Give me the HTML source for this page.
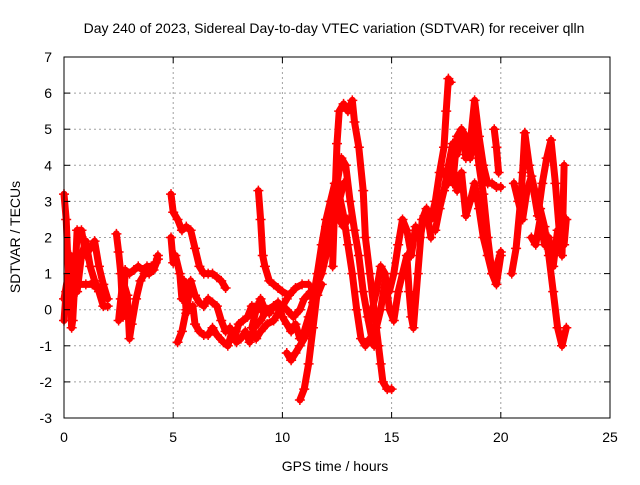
<!DOCTYPE html>
<html><head><meta charset="utf-8"><style>
body{margin:0;background:#fff}
svg text{font-family:"Liberation Sans",sans-serif;font-size:14px;fill:#000}
</style></head><body>
<svg id="chart" width="640" height="480" viewBox="0 0 640 480" xmlns="http://www.w3.org/2000/svg">
<rect width="640" height="480" fill="#fff"/>
<text x="334" y="33" text-anchor="middle">Day 240 of 2023, Sidereal Day-to-day VTEC variation (SDTVAR) for receiver qlln</text>
<g id="grid"></g>
<g id="series"></g>
<rect x="64" y="57" width="546" height="361" fill="none" stroke="#000" stroke-width="1"/>
<g id="ticks"></g>
<text x="335" y="471" text-anchor="middle">GPS time / hours</text>
<text transform="translate(20,237) rotate(-90)" text-anchor="middle">SDTVAR / TECUs</text>
</svg>
<script>
const xTicks=[0,5,10,15,20,25];
const yTicks=[-3,-2,-1,0,1,2,3,4,5,6,7];
const trace1=[[0,3.2],[0.1,2.5],[0.2,1.0],[0.3,0.3],[0.35,-0.5],[0.4,-0.3],[0.5,0.8],[0.6,2.2],[0.8,2.2],[1.0,1.5],[1.2,1.7],[1.4,1.9],[1.6,1.2],[1.8,0.7],[2.0,0.3]];
const trace2=[[0,0.3],[0.2,1.0],[0.4,0.8],[0.6,0.5],[0.8,1.5],[1.0,1.9],[1.2,1.2],[1.4,0.8],[1.6,0.5],[1.8,0.1],[2.0,0.1]];
const trace3=[[0,-0.3],[0.1,0.5],[0.3,1.5],[0.5,1.1],[0.7,0.7],[1.0,0.7],[1.3,0.7],[1.5,0.6]];
const trace4=[[2.4,2.1],[2.5,1.6],[2.6,1.0],[2.7,-0.2],[2.8,1.1],[3.0,1.0],[3.2,1.1],[3.4,1.2],[3.6,1.1],[3.8,1.2],[4.0,1.2],[4.2,1.3],[4.3,1.5]];
const trace5=[[2.5,-0.3],[2.6,0.3],[2.7,0.8],[2.9,0.4],[3.0,-0.8],[3.1,-0.4],[3.3,0.3],[3.5,0.8],[3.7,1.0],[3.9,1.0],[4.1,1.1],[4.3,1.4]];
const trace6=[[4.9,3.2],[5.0,2.7],[5.2,2.5],[5.4,2.2],[5.6,2.3],[5.8,2.2],[6.0,1.7],[6.2,1.2],[6.4,1.0],[6.6,1.0],[6.8,1.0],[7.0,0.9],[7.2,0.8],[7.4,0.6]];
const trace7=[[4.9,2.0],[5.0,1.3],[5.1,1.5],[5.3,1.0],[5.4,0.3],[5.5,0.8],[5.6,-0.1],[5.8,0.8],[6.0,0.4],[6.2,0.2],[6.4,0.1],[6.6,0.3],[6.8,0.2],[7.0,0.1],[7.2,-0.3],[7.4,-0.6],[7.6,-0.5],[7.8,-0.8],[8.0,-0.4],[8.2,-0.3],[8.4,-0.2],[8.6,0.1],[8.8,0.1],[9.0,0.0]];
const trace8=[[5.2,-0.9],[5.4,-0.6],[5.6,0.0],[5.9,0.1],[6.0,-0.4],[6.2,-0.6],[6.4,-0.7],[6.6,-0.7],[6.8,-0.5],[7.0,-0.7],[7.3,-0.9],[7.5,-1.0],[7.7,-0.6],[7.9,-0.9],[8.1,-0.8],[8.3,-0.6],[8.5,-0.9],[8.7,-0.5],[9.0,-0.3],[9.3,0.0],[9.6,0.1],[9.9,0.0],[10.2,0.3]];
const trace9=[[8.9,3.3],[9.0,2.5],[9.1,1.5],[9.2,1.2],[9.4,0.8],[9.6,0.7],[9.8,0.6],[10.0,0.5],[10.3,0.4],[10.6,0.6],[10.9,0.7],[11.2,0.7]];
const trace10=[[8.6,-0.5],[8.8,0.0],[9.0,0.3],[9.2,0.0],[9.4,-0.1],[9.6,0.1],[9.8,0.2],[10.0,-0.2],[10.2,-0.4],[10.4,-0.6],[10.6,-0.4],[10.8,-0.8],[11.0,-0.6],[11.2,-0.2],[11.4,0.2],[11.6,0.4],[11.8,0.7]];
const trace11=[[8.8,-0.8],[9.0,-0.6],[9.3,-0.4],[9.6,-0.3],[9.8,-0.1],[10.0,0.1],[10.2,0.0],[10.5,-0.2],[10.8,0.0],[11.0,0.3],[11.3,0.5],[11.6,0.7],[11.8,1.0],[12.0,1.5],[12.2,2.0],[12.4,2.5],[12.6,3.0],[12.8,3.5]];
const trace12=[[10.2,-1.2],[10.4,-1.4],[10.6,-1.2],[10.8,-1.0],[11.0,-0.8],[11.2,-0.5],[11.4,0.3],[11.6,1.0],[11.8,1.8],[12.0,2.5],[12.2,3.0],[12.4,3.5],[12.6,3.2],[12.8,2.6],[13.0,1.8],[13.2,1.0],[13.4,0.0],[13.6,-0.8],[13.8,-1.0],[14.0,-0.8],[14.2,-1.0]];
const trace13=[[10.8,-2.5],[11.0,-2.2],[11.2,-1.5],[11.4,-0.5],[11.6,0.5],[11.8,1.5],[12.0,2.3],[12.2,2.8],[12.4,3.2],[12.6,2.5],[12.8,2.3],[13.0,2.5]];
const trace14=[[12.3,1.2],[12.4,3.0],[12.5,4.6],[12.6,5.5],[12.8,5.7],[13.0,5.5],[13.2,5.8],[13.3,5.2],[13.5,4.5],[13.7,3.3],[13.8,2.0],[14.0,1.0],[14.2,0.0],[14.4,-1.0],[14.5,-1.5],[14.6,-2.0],[14.8,-2.2],[15.0,-2.2]];
const trace15=[[12.5,3.5],[12.7,4.2],[12.9,4.0],[13.1,3.0],[13.3,2.2],[13.5,1.5],[13.7,0.5],[13.9,-0.2],[14.1,-0.8],[14.3,-0.5],[14.5,0.0],[14.7,0.8],[14.9,0.5],[15.1,1.0],[15.3,1.8],[15.5,2.5],[15.7,2.2],[15.9,1.5],[16.1,2.3],[16.3,2.0],[16.5,2.6]];
const trace16=[[14.0,-0.3],[14.3,0.5],[14.5,1.2],[14.7,1.0],[14.9,0.0],[15.1,-0.3],[15.3,0.5],[15.5,1.0],[15.7,1.5],[15.8,0.5],[15.9,-0.2],[16.0,-0.5],[16.2,1.0],[16.4,2.5],[16.6,2.8],[16.8,2.0]];
const trace17=[[16.8,2.5],[17.0,3.0],[17.2,3.8],[17.4,4.5],[17.5,5.5],[17.6,6.4],[17.7,6.3]];
const trace18=[[17.0,2.2],[17.2,2.8],[17.4,3.3],[17.6,4.0],[17.8,4.6],[18.0,4.3],[18.2,5.0],[18.4,4.8],[18.6,4.2],[18.8,5.0],[19.0,4.0],[19.2,3.2],[19.4,2.0],[19.6,1.0],[19.8,0.7],[20.0,1.5]];
const trace19=[[17.4,3.8],[17.6,3.5],[17.8,4.0],[18.0,3.3],[18.2,3.8],[18.4,2.6],[18.6,3.0],[18.8,3.5],[19.0,2.8],[19.2,2.0],[19.4,1.5],[19.6,1.0],[19.8,1.2],[20.0,1.6]];
const trace20=[[17.8,3.5],[18.0,4.8],[18.2,5.0],[18.4,4.2],[18.6,4.6],[18.8,5.8],[19.0,4.8],[19.2,4.0],[19.4,3.5],[19.6,3.5],[19.8,3.4],[20.0,3.4]];
const trace21=[[19.7,5.0],[19.8,4.5],[19.9,3.8]];
const trace22=[[20.5,1.0],[20.7,1.7],[20.9,3.0],[21.0,3.8],[21.1,4.9],[21.3,4.0],[21.5,3.3],[21.7,2.6],[21.9,3.5],[22.1,4.2],[22.3,4.7],[22.5,3.5],[22.7,2.0],[22.9,1.8],[23.0,2.5]];
const trace23=[[20.6,3.5],[20.8,3.0],[21.0,2.5],[21.2,3.3],[21.4,3.7],[21.6,3.2],[21.8,2.8],[22.0,2.3],[22.2,1.5],[22.4,0.5],[22.6,-0.5],[22.8,-1.0],[23.0,-0.5]];
const trace24=[[21.4,2.0],[21.6,1.8],[21.8,2.5],[22.0,1.8],[22.2,2.0],[22.4,1.2],[22.6,2.2],[22.8,1.5],[22.9,4.0]];
const allTraces=[trace1,trace2,trace3,trace4,trace5,trace6,trace7,trace8,trace9,trace10,trace11,trace12,trace13,trace14,trace15,trace16,trace17,trace18,trace19,trace20,trace21,trace22,trace23,trace24];

const X0=64,X1=610,Y0=418,Y1=57;
function xs(t){return X0+(t-0)/(25-0)*(X1-X0);}
function ys(v){return Y0-(v+3)/(7+3)*(Y0-Y1);}
const NS='http://www.w3.org/2000/svg';
function mk(tag,attrs,parent){const e=document.createElementNS(NS,tag);for(const k in attrs)e.setAttribute(k,attrs[k]);parent.appendChild(e);return e;}
const grid=document.getElementById('grid'),ticks=document.getElementById('ticks'),ser=document.getElementById('series');
xTicks.forEach(t=>{
  const x=xs(t);
  if(t>0&&t<25){const g=mk('line',{x1:x,x2:x,y1:Y1,y2:Y0,stroke:'#a0a0a0','stroke-dasharray':'2,3'},grid);
  
  }
  mk('line',{x1:x,x2:x,y1:Y0,y2:Y0-6,stroke:'#000'},ticks);
  mk('line',{x1:x,x2:x,y1:Y1,y2:Y1+6,stroke:'#000'},ticks);
  const l=mk('text',{x:x,y:Y0+24,'text-anchor':'middle'},ticks);l.textContent=t;
  
  
});
yTicks.forEach(v=>{
  const y=ys(v);
  if(v>-3&&v<7){const g=mk('line',{x1:X0,x2:X1,y1:y,y2:y,stroke:'#a0a0a0','stroke-dasharray':'2,3'},grid);
  
  }
  mk('line',{x1:X0,x2:X0+6,y1:y,y2:y,stroke:'#000'},ticks);
  mk('line',{x1:X1,x2:X1-6,y1:y,y2:y,stroke:'#000'},ticks);
  const l=mk('text',{x:X0-12,y:y+5,'text-anchor':'end'},ticks);l.textContent=v;
  
  
});
allTraces.forEach(tr=>{
  const pts=tr.map(p=>xs(p[0]).toFixed(1)+','+ys(p[1]).toFixed(1)).join(' ');
  const pl=mk('polyline',{points:pts,fill:'none',stroke:'#ff0000','stroke-width':7,'stroke-linejoin':'round','stroke-linecap':'round'},ser);
  
  
  let d='';
  tr.forEach(p=>{const x=xs(p[0]),y=ys(p[1]);d+=`M${x-5},${y}h10M${x},${y-5}v10`;});
  const m=mk('path',{d:d,stroke:'#ff0000','stroke-width':1.5,fill:'none'},ser);
  
  
});
</script>
</body></html>
